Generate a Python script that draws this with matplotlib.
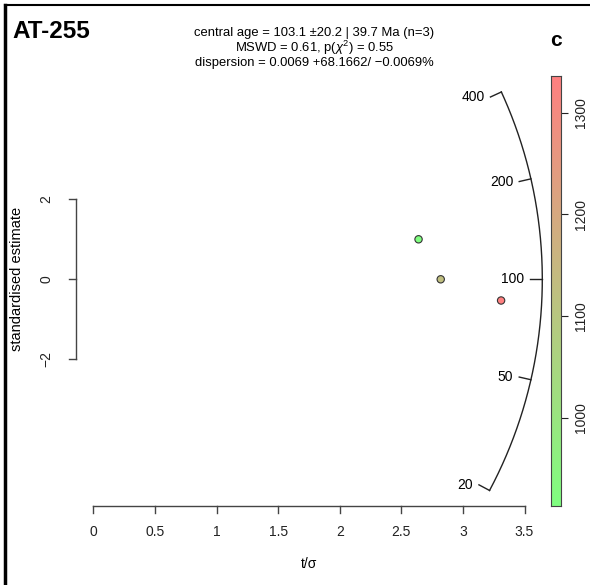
import numpy as np
import matplotlib
matplotlib.use("Agg")
import matplotlib.pyplot as plt
from matplotlib.colors import LinearSegmentedColormap, Normalize

plt.rcParams['font.family'] = ['Liberation Sans', 'DejaVu Sans']
plt.rcParams['mathtext.fontset'] = 'custom'
plt.rcParams['mathtext.rm'] = 'Liberation Sans'
plt.rcParams['mathtext.it'] = 'Liberation Sans:italic'

# data
t_sigma = [2.64, 2.82, 3.31]          # t/sigma
z_std = [1.0, 0.0, -0.53]             # standardised estimate
c_val = [913, 1125, 1336]             # colour variable
age_ticks = [20, 50, 100, 200, 400]
x_ticks = [0, 0.5, 1, 1.5, 2, 2.5, 3, 3.5]
y_ticks = [-2, 0, 2]
cbar_ticks = [1000, 1100, 1200, 1300]
t_ref = 100.0

W, H = 590, 585
fig = plt.figure(figsize=(W / 100, H / 100), dpi=100)

# pixel -> data mapping
px0, py0 = 93.3, 279.3
sx, sy = 123.2, 40.0
L, R, T, B = 40, 570, 40, 560
ax = fig.add_axes([L / W, 1 - B / H, (R - L) / W, (B - T) / H])
ax.set_xlim((L - px0) / sx, (R - px0) / sx)
ax.set_ylim((py0 - B) / sy, (py0 - T) / sy)
ax.axis('off')

cmap = LinearSegmentedColormap.from_list('gr', ['#80ff80', '#ff8080'])
norm = Normalize(vmin=min(c_val), vmax=max(c_val))

ax.scatter(t_sigma, z_std, c=c_val, cmap=cmap, norm=norm, s=28,
           edgecolors='#333333', linewidths=0.8, zorder=3)

fs = 10
# x axis
ya = (py0 - 505.7) / sy
ax.plot([x_ticks[0], x_ticks[-1]], [ya, ya], color='#444444', lw=1)
for xt in x_ticks:
    ax.plot([xt, xt], [ya, ya - 7 / sy], color='#444444', lw=1)
    ax.text(xt, ya - 26 / sy, f"{xt:g}", ha='center', va='center', fontsize=fs, color='#222222')
ax.text(1.75, ya - 58 / sy, "t/σ", ha='center', va='center', fontsize=fs)

# y axis
xa = (76 - px0) / sx
ax.plot([xa, xa], [y_ticks[0], y_ticks[-1]], color='#444444', lw=1)
for yt in y_ticks:
    ax.plot([xa, xa - 7 / sx], [yt, yt], color='#444444', lw=1)
    ax.text(xa - 30 / sx, yt, "−2" if yt < 0 else str(yt), ha='center', va='center',
            rotation=90, fontsize=fs, color='#222222')
ax.text((17 - px0) / sx, 0, "standardised estimate", ha='center', va='center',
        rotation=90, fontsize=10.5)

# radial arc (circle in pixel space)
Rp = 449.0
k = 3.02
phis = [np.arctan(np.log(a / t_ref) / k) for a in age_ticks]
phi = np.linspace(phis[0], phis[-1], 300)
ax.plot(Rp * np.cos(phi) / sx, Rp * np.sin(phi) / sy, color='#222222', lw=1)
for a, p in zip(age_ticks, phis):
    x1, y1 = Rp * np.cos(p), Rp * np.sin(p)
    x2, y2 = (Rp - 12) * np.cos(p), (Rp - 12) * np.sin(p)
    ax.plot([x1 / sx, x2 / sx], [y1 / sy, y2 / sy], color='#222222', lw=1)
    ax.text((x2 - 6) / sx, y2 / sy, str(a), ha='right', va='center', fontsize=fs)

# texts
fig.text(12 / W, 1 - 31 / H, "AT-255", fontsize=17.5, fontweight='bold', ha='left', va='center')
cap = 9.4
fig.text(314 / W, 1 - 33 / H, "central age = 103.1 ±20.2 | 39.7 Ma (n=3)", ha='center', va='center', fontsize=cap)
fig.text(314 / W, 1 - 48 / H, r"MSWD = 0.61, p($\chi^2$) = 0.55", ha='center', va='center', fontsize=cap)
fig.text(314 / W, 1 - 63 / H, "dispersion = 0.0069 +68.1662/ −0.0069%", ha='center', va='center', fontsize=cap)
fig.text(556 / W, 1 - 40 / H, "c", fontsize=15, fontweight='bold', ha='center', va='center')

# colour bar
cax = fig.add_axes([551 / W, 1 - 506 / H, 10 / W, 430 / H])
grad = np.linspace(min(c_val), max(c_val), 256).reshape(-1, 1)
cax.imshow(grad, cmap=cmap, norm=norm, aspect='auto', origin='lower',
           extent=[0, 1, min(c_val), max(c_val)])
cax.set_xticks([])
cax.yaxis.tick_right()
cax.set_yticks(cbar_ticks)
cax.set_yticklabels([str(v) for v in cbar_ticks], rotation=90, va='center', fontsize=fs)
cax.tick_params(axis='y', length=5, pad=4, colors='#222222')
for s in cax.spines.values():
    s.set_color('#444444')

# frame lines
fig.add_artist(plt.Line2D([5 / W, 5 / W], [0, 1 - 5 / H], color='black', lw=2.5))
fig.add_artist(plt.Line2D([5 / W, 1], [1 - 5 / H, 1 - 5 / H], color='black', lw=1.5))

fig.savefig("out.png", dpi=100)
